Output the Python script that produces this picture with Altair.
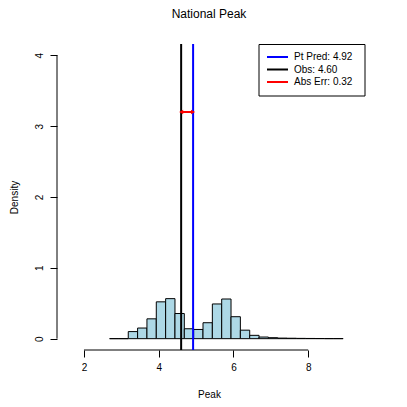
import altair as alt
import pandas as pd

# ---- data ----
bin_left = [2.685, 2.935, 3.185, 3.435, 3.685, 3.935, 4.185, 4.435, 4.685, 4.935,
            5.185, 5.435, 5.685, 5.935, 6.185, 6.435, 6.685, 6.935, 7.185, 7.435,
            7.685, 7.935, 8.185, 8.435, 8.685]
bin_width = 0.25
density = [0.0, 0.0, 0.10, 0.15, 0.28, 0.52, 0.565, 0.355, 0.14, 0.13,
           0.225, 0.49, 0.56, 0.31, 0.12, 0.047, 0.023, 0.014, 0.008, 0.006,
           0.004, 0.003, 0.002, 0.001, 0.001]

pt_pred = 4.92
obs = 4.60
err_y = 3.2
legend_labels = ["Pt Pred: 4.92", "Obs: 4.60", "Abs Err: 0.32"]
legend_colors = ["#0000FF", "#000000", "#FF0000"]
x_ticks = [2, 4, 6, 8]
y_ticks = [0, 1, 2, 3, 4]

FONT = "Liberation Sans"
W, H = 308, 306

hist = pd.DataFrame({"left": bin_left,
                     "right": [b + bin_width for b in bin_left],
                     "density": density})
one = pd.DataFrame({"k": [0]})
vlines = pd.DataFrame({"x": [pt_pred, obs], "label": legend_labels[:2]})
err = pd.DataFrame({"x": [obs], "x2": [pt_pred], "y": [err_y]})
heads = pd.DataFrame({"x": [obs, pt_pred], "y": [err_y, err_y],
                      "shape": ["triangle-left", "triangle-right"]})
leg = pd.DataFrame({"label": legend_labels, "color": legend_colors,
                    "row": list(range(len(legend_labels)))})

xs = alt.Scale(domain=[1.278, 9.52], nice=False, zero=False)
ys = alt.Scale(domain=[-0.16, 4.16], nice=False, zero=False)

bars = alt.Chart(hist).mark_rect(fill="#ADD8E6", stroke="black", strokeWidth=1).encode(
    x=alt.X("left:Q", scale=xs,
            axis=alt.Axis(values=x_ticks, title="Peak", format="d",
                          titleX=152, titleY=44, titleBaseline="middle",
                          labelPadding=5)),
    x2="right:Q",
    y=alt.Y("density:Q", scale=ys,
            axis=alt.Axis(values=y_ticks, title="Density", format="d",
                          labelAngle=270, labelAlign="center",
                          labelBaseline="alphabetic", labelPadding=8,
                          titleX=-43, titleY=153, titleAngle=270,
                          titleAlign="center", titleBaseline="middle")),
    y2=alt.datum(0),
)

yline = alt.Chart(one).mark_rule(color="black", strokeWidth=1).encode(
    x=alt.value(0), y=alt.datum(y_ticks[0], scale=ys), y2=alt.datum(y_ticks[-1]))
xline = alt.Chart(one).mark_rule(color="black", strokeWidth=1).encode(
    x=alt.datum(x_ticks[0], scale=xs), x2=alt.datum(x_ticks[-1]), y=alt.value(H))

cscale = alt.Scale(domain=legend_labels, range=legend_colors)

vl = alt.Chart(vlines).mark_rule(strokeWidth=2).encode(
    x=alt.X("x:Q", scale=xs),
    color=alt.Color("label:N", scale=cscale, legend=None))

err_rule = alt.Chart(err).mark_rule(color="#FF0000", strokeWidth=2).encode(
    x=alt.X("x:Q", scale=xs), x2="x2:Q", y=alt.Y("y:Q", scale=ys))
err_heads = alt.Chart(heads).mark_point(filled=True, color="#FF0000", size=22, opacity=1).encode(
    x=alt.X("x:Q", scale=xs), y=alt.Y("y:Q", scale=ys),
    shape=alt.Shape("shape:N", scale=None))

# legend box (manual, R style)
box = alt.Chart(one).mark_rect(fill="white", stroke="black", strokeWidth=1).encode(
    x=alt.value(202), x2=alt.value(308), y=alt.value(0.5), y2=alt.value(52))
leg_base = alt.Chart(leg).transform_calculate(ypix="13 + datum.row * 12.5")
leg_lines = leg_base.mark_rule(strokeWidth=2).encode(
    x=alt.value(210), x2=alt.value(231),
    y=alt.Y("ypix:Q", scale=None),
    color=alt.Color("label:N", scale=cscale, legend=None))
leg_text = leg_base.mark_text(align="left", baseline="middle", font=FONT,
                              fontSize=10, color="black").encode(
    x=alt.value(237), y=alt.Y("ypix:Q", scale=None), text="label:N")

chart = alt.layer(bars, yline, xline, vl, err_rule, err_heads,
                  box, leg_lines, leg_text).properties(
    width=W, height=H,
    background="white",
    title=alt.TitleParams("National Peak", font=FONT, fontSize=12,
                          fontWeight="normal", color="black", offset=22,
                          anchor="middle", dx=-2),
    padding={"left": 49, "top": 36, "right": 26, "bottom": 49},
    autosize=alt.AutoSizeParams(type="none"),
).configure_view(stroke=None).configure_axis(
    domain=False, grid=False, tickColor="black", tickSize=7, tickWidth=1,
    labelFont=FONT, labelFontSize=10, labelColor="black",
    titleFont=FONT, titleFontSize=10, titleColor="black", titleFontWeight="normal",
)

chart.save("out.html", embed_options={"renderer": "svg", "actions": False})
